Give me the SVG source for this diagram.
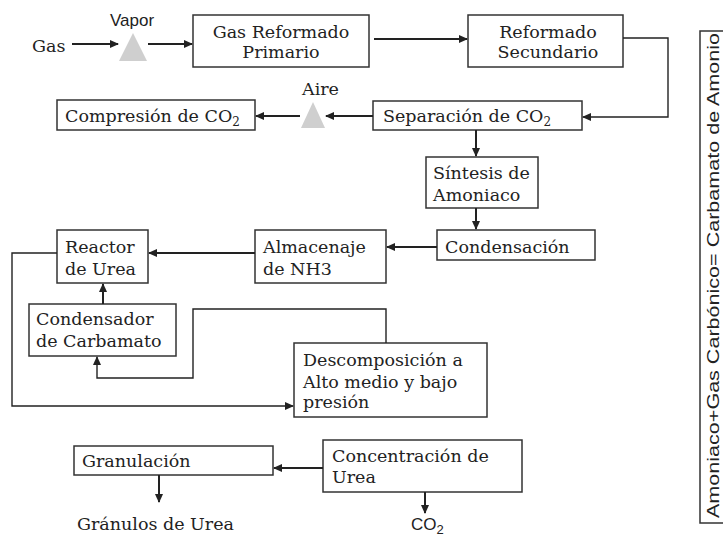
<svg xmlns="http://www.w3.org/2000/svg" width="723" height="538" viewBox="0 0 723 538">
<style>
.box{fill:#fff;stroke:#333;stroke-width:1.5}
.t{font-family:"DejaVu Serif","Liberation Serif",serif;font-size:17.5px;fill:#222}
.s{font-family:"Liberation Sans",Arial,sans-serif;font-size:17px;fill:#222}
.c{fill:none;stroke:#222;stroke-width:2}
.c1{fill:none;stroke:#222;stroke-width:1.4}
.tri{fill:#cfcfcf}
</style>
<defs>
<marker id="ah" markerWidth="9" markerHeight="8" refX="8" refY="4" orient="auto" markerUnits="userSpaceOnUse">
<path d="M0,0 L9,4 L0,8 Z" fill="#222"/>
</marker>
</defs>
<rect width="723" height="538" fill="#fff"/>
<g id="gas"><text class="t" x="32" y="52">Gas</text></g>
<g id="vapor"><text class="s" x="110" y="26" font-size="20">Vapor</text><polygon class="tri" points="133,33 119,61 147,61"/></g>
<g id="primario"><rect class="box" x="193" y="15" width="176" height="52"/><text class="t" x="281" y="38" text-anchor="middle">Gas Reformado</text><text class="t" x="281" y="58" text-anchor="middle">Primario</text></g>
<g id="secundario"><rect class="box" x="468" y="15" width="155" height="52"/><text class="t" x="548" y="38" text-anchor="middle">Reformado</text><text class="t" x="548" y="58" text-anchor="middle">Secundario</text></g>
<g id="aire"><text class="t" x="302" y="95">Aire</text><polygon class="tri" points="313,102 301,128 325,128"/></g>
<g id="compresion"><rect class="box" x="57" y="100" width="198" height="30"/><text class="t" x="65" y="122">Compresión de CO<tspan font-size="12" dy="4">2</tspan></text></g>
<g id="separacion"><rect class="box" x="373" y="101" width="209" height="29"/><text class="t" x="383" y="122">Separación de CO<tspan font-size="12" dy="4">2</tspan></text></g>
<g id="sintesis"><rect class="box" x="426" y="157" width="112" height="51"/><text class="t" x="433" y="179">Síntesis de</text><text class="t" x="433" y="201">Amoniaco</text></g>
<g id="condensacion"><rect class="box" x="437" y="230" width="158" height="30"/><text class="t" x="445" y="253">Condensación</text></g>
<g id="almacenaje"><rect class="box" x="255" y="230" width="131" height="53"/><text class="t" x="263" y="253">Almacenaje</text><text class="t" x="263" y="275">de NH3</text></g>
<g id="reactor"><rect class="box" x="57" y="230" width="91" height="53"/><text class="t" x="65" y="253">Reactor</text><text class="t" x="65" y="275">de Urea</text></g>
<g id="condensador"><rect class="box" x="29" y="304" width="147" height="52"/><text class="t" x="36" y="325">Condensador</text><text class="t" x="36" y="347">de Carbamato</text></g>
<g id="descomposicion"><rect class="box" x="294" y="343" width="193" height="74"/><text class="t" x="303" y="366">Descomposición a</text><text class="t" x="303" y="388">Alto medio y bajo</text><text class="t" x="303" y="408">presión</text></g>
<g id="granulacion"><rect class="box" x="74" y="446" width="199" height="29"/><text class="t" x="82" y="467">Granulación</text></g>
<g id="concentracion"><rect class="box" x="323" y="440" width="199" height="52"/><text class="t" x="332" y="462">Concentración de</text><text class="t" x="332" y="483">Urea</text></g>
<g id="granulos"><text class="t" x="77" y="530">Gránulos de Urea</text></g>
<g id="co2"><text class="s" x="411" y="530" font-size="18">CO<tspan font-size="13" dy="4">2</tspan></text></g>
<g id="ecuacion"><rect class="box" x="700" y="31" width="24" height="492"/><text class="s" font-size="23" textLength="485" lengthAdjust="spacingAndGlyphs" transform="translate(719,518) rotate(-90)">Amoniaco+Gas Carbónico= Carbamato de Amonio</text></g>
<g id="connectors">
<path class="c" d="M72,44 H118" marker-end="url(#ah)"/>
<path class="c" d="M148,44 H192" marker-end="url(#ah)"/>
<path class="c" d="M374,39 H467" marker-end="url(#ah)"/>
<path class="c1" d="M623,38 H668 V117 H583" marker-end="url(#ah)"/>
<path class="c" d="M373,116 H326" marker-end="url(#ah)"/>
<path class="c" d="M300,116 H256" marker-end="url(#ah)"/>
<path class="c" d="M476,130 V156" marker-end="url(#ah)"/>
<path class="c" d="M476,208 V229" marker-end="url(#ah)"/>
<path class="c" d="M437,247 H387" marker-end="url(#ah)"/>
<path class="c" d="M255,253 H149" marker-end="url(#ah)"/>
<path class="c1" d="M57,253 H12 V406 H293" marker-end="url(#ah)"/>
<path class="c" d="M103,304 V284" marker-end="url(#ah)"/>
<path class="c1" d="M386,343 V309 H193 V378 H97 V357" marker-end="url(#ah)"/>
<path class="c" d="M323,468 H274" marker-end="url(#ah)"/>
<path class="c" d="M159,475 V502" marker-end="url(#ah)"/>
<path class="c" d="M425,492 V513" marker-end="url(#ah)"/>
</g>
</svg>
